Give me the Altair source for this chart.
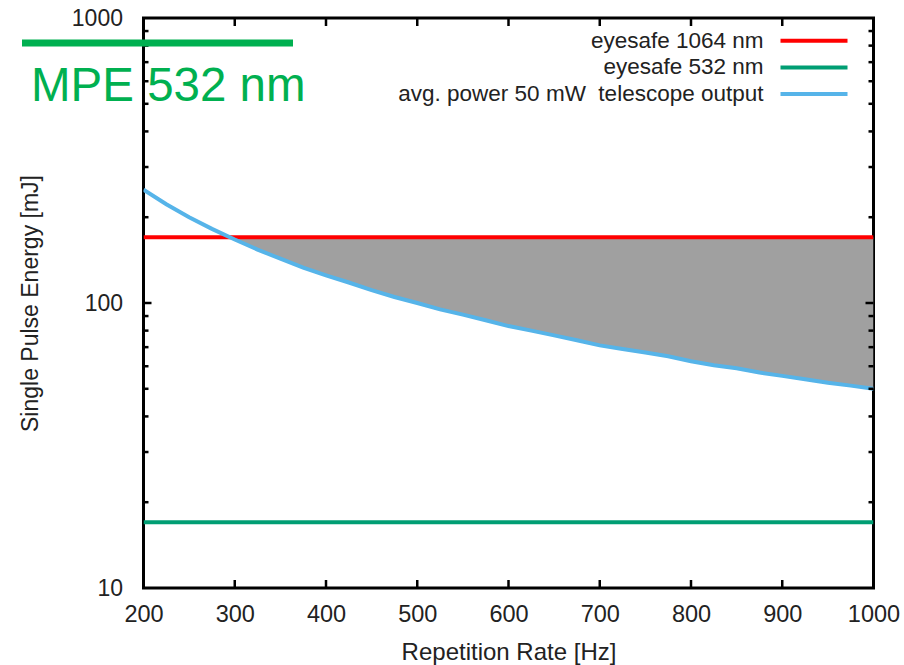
import altair as alt
import pandas as pd

# ---- data ----
rate = [200, 225, 250, 275, 300, 325, 350, 375, 400, 425, 450, 475, 500,
        525, 550, 575, 600, 625, 650, 675, 700, 725, 750, 775, 800,
        825, 850, 875, 900, 925, 950, 975, 1000]
energy = [250, 222, 200, 182, 167, 154, 143, 133, 125, 118, 111, 105, 100,
          95, 91, 87, 83, 80, 77, 74, 71, 69, 67, 65, 62.5,
          60.5, 59, 57, 55.5, 54, 52.5, 51.3, 50]
red_level = [170]      # eyesafe 1064 nm
green_level = [17]     # eyesafe 532 nm
x_tick_values = [200, 300, 400, 500, 600, 700, 800, 900, 1000]
x_inner_ticks = [300, 400, 500, 600, 700, 800, 900]
y_label_values = [10, 100, 1000]
y_major_inner = [100]
y_minor_inner = [20, 30, 40, 50, 60, 70, 80, 90, 200, 300, 400, 500, 600, 700, 800, 900]
legend_labels = ["eyesafe 1064 nm", "eyesafe 532 nm", "avg. power 50 mW\u00a0 telescope output"]
legend_colors = ["#FF0000", "#009E73", "#56B4E9"]
annot_text = "MPE 532 nm"
annot_color = "#00B050"

W, H = 730, 570
FONT = "Liberation Sans"
TXT = "#222222"

curve = pd.DataFrame({"rate": rate, "E": energy})
red_df = pd.DataFrame({"E": red_level})
green_df = pd.DataFrame({"E": green_level})
xt_df = pd.DataFrame({"rate": x_inner_ticks})
ymaj_df = pd.DataFrame({"E": y_major_inner})
ymin_df = pd.DataFrame({"E": y_minor_inner})
one = pd.DataFrame({"a": [0]})

xscale = alt.Scale(domain=[200, 1000], nice=False, zero=False)
yscale = alt.Scale(type="log", domain=[10, 1000], nice=False)
xaxis = alt.Axis(values=x_tick_values, format="d", tickSize=0, domain=False, grid=False,
                 labelFlush=False, labelOverlap=False, labelPadding=14,
                 labelFontSize=23.5, labelFont=FONT, labelColor=TXT,
                 titleFontSize=24, titleFont=FONT, titleColor=TXT, titleFontWeight="normal",
                 titlePadding=15)
yaxis = alt.Axis(values=y_label_values, format="d", tickSize=0, domain=False, grid=False,
                 labelFlush=False, labelOverlap=False, labelPadding=21,
                 labelFontSize=23, labelFont=FONT, labelColor=TXT,
                 titleFontSize=23, titleFont=FONT, titleColor=TXT, titleFontWeight="normal",
                 titlePadding=29)
XT = "Repetition Rate [Hz]"
YT = "Single Pulse Energy [mJ]"


def X(f="rate"):
    return alt.X(f"{f}:Q", scale=xscale, axis=xaxis, title=XT)


def Y(f="E"):
    return alt.Y(f"{f}:Q", scale=yscale, axis=yaxis, title=YT)


area = alt.Chart(curve).transform_calculate(
    lo=f"min(datum.E, {red_level[0]})", hi=f"{red_level[0]}"
).mark_area(color="#A0A0A0", clip=True).encode(x=X(), y=Y("lo"), y2="hi:Q")

red = alt.Chart(red_df).mark_rule(color=legend_colors[0], strokeWidth=4, clip=True).encode(y=Y())
green = alt.Chart(green_df).mark_rule(color=legend_colors[1], strokeWidth=4, clip=True).encode(y=Y())
blue = alt.Chart(curve).mark_line(color=legend_colors[2], strokeWidth=4, clip=True).encode(x=X(), y=Y())

tick_style = dict(color="black", strokeWidth=2.5)
xb = alt.Chart(xt_df).mark_rule(**tick_style).encode(x=X(), y=alt.value(H), y2=alt.value(H - 8))
xtp = alt.Chart(xt_df).mark_rule(**tick_style).encode(x=X(), y=alt.value(0), y2=alt.value(8))
yl = alt.Chart(ymaj_df).mark_rule(**tick_style).encode(y=Y(), x=alt.value(0), x2=alt.value(8))
yr = alt.Chart(ymaj_df).mark_rule(**tick_style).encode(y=Y(), x=alt.value(W), x2=alt.value(W - 8))
yml = alt.Chart(ymin_df).mark_rule(**tick_style).encode(y=Y(), x=alt.value(0), x2=alt.value(5))
ymr = alt.Chart(ymin_df).mark_rule(**tick_style).encode(y=Y(), x=alt.value(W), x2=alt.value(W - 5))

layers = [area, red, green, blue, xb, xtp, yl, yr, yml, ymr]

# legend (manual, top-right inside the plot)
for i, (lab, col) in enumerate(zip(legend_labels, legend_colors)):
    ly = 22.7 + 26.7 * i
    layers.append(alt.Chart(one).mark_text(align="right", baseline="middle", font=FONT,
                                           fontSize=22.5, color=TXT).encode(
        x=alt.value(620), y=alt.value(ly), text=alt.value(lab)))
    layers.append(alt.Chart(one).mark_rule(color=col, strokeWidth=4).encode(
        x=alt.value(637), x2=alt.value(704), y=alt.value(ly)))

# MPE 532 nm annotation
layers.append(alt.Chart(one).mark_rule(color=annot_color, strokeWidth=7).encode(
    x=alt.value(-121.5), x2=alt.value(149.5), y=alt.value(25)))
layers.append(alt.Chart(one).mark_text(align="left", baseline="alphabetic", font=FONT,
                                       fontSize=47.5, color=annot_color).encode(
    x=alt.value(-112.5), y=alt.value(82.7), text=alt.value(annot_text)))

chart = alt.layer(*layers).properties(
    width=W, height=H,
    autosize=alt.AutoSizeParams(type="none"),
    padding={"left": 143.5, "top": 18, "right": 30.5, "bottom": 77},
    background="white",
).configure_view(stroke="black", strokeWidth=3)

chart.save("out.html", embed_options={"renderer": "svg", "actions": False})
